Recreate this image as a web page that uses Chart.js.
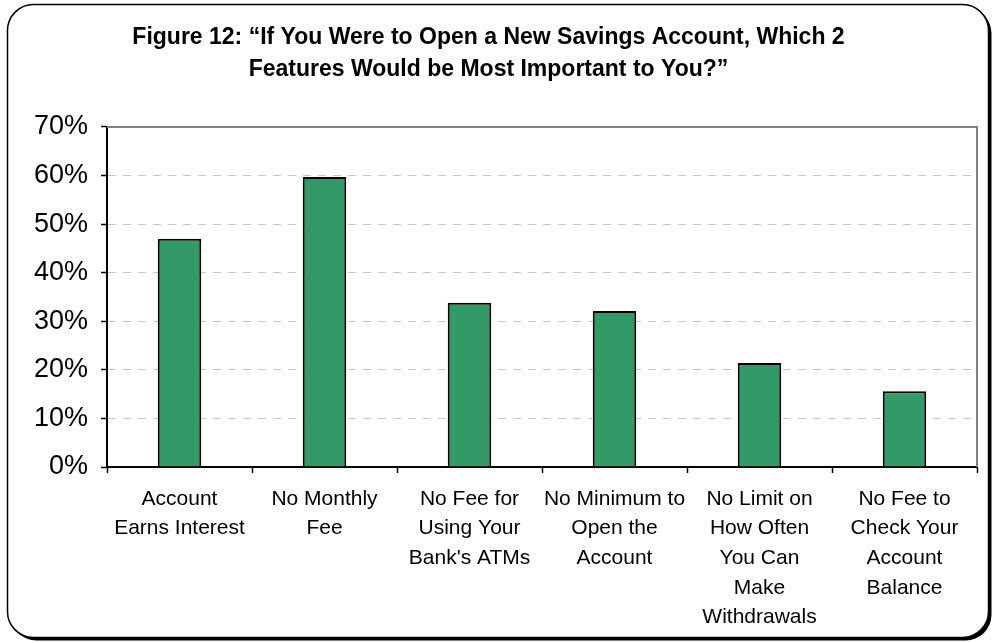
<!DOCTYPE html>
<html>
<head>
<meta charset="utf-8">
<title>Savings account features</title>
<script src="https://cdn.jsdelivr.net/npm/chart.js@4/dist/chart.umd.min.js"></script>
<style>
  html, body { margin: 0; padding: 0; background: #fff; }
  #wrap { width: 998px; height: 643px; position: relative; }
</style>
</head>
<body>
<div id="wrap"><canvas id="featuresChart" width="998" height="643"></canvas></div>
<script>
// survey answers: share of respondents choosing each feature (%)
const features = [
    ['Account', 'Earns Interest'],
    ['No Monthly', 'Fee'],
    ['No Fee for', 'Using Your', "Bank's ATMs"],
    ['No Minimum to', 'Open the', 'Account'],
    ['No Limit on', 'How Often', 'You Can', 'Make', 'Withdrawals'],
    ['No Fee to', 'Check Your', 'Account', 'Balance']
];
const shares = [47.0, 59.7, 33.8, 32.1, 21.4, 15.6];
const yTicks = [0, 10, 20, 30, 40, 50, 60, 70];

const titleLines = [
    'Figure 12: \u201CIf You Were to Open a New Savings Account, Which 2',
    'Features Would be Most Important to You?\u201D'
];

const FONT = '"Liberation Sans", Arial, sans-serif';

function roundRect(ctx, x, y, w, h, r) {
    ctx.beginPath();
    ctx.moveTo(x + r, y);
    ctx.lineTo(x + w - r, y);
    ctx.arcTo(x + w, y, x + w, y + r, r);
    ctx.lineTo(x + w, y + h - r);
    ctx.arcTo(x + w, y + h, x + w - r, y + h, r);
    ctx.lineTo(x + r, y + h);
    ctx.arcTo(x, y + h, x, y + h - r, r);
    ctx.lineTo(x, y + r);
    ctx.arcTo(x, y, x + r, y, r);
    ctx.closePath();
}

// rounded frame with a hard drop shadow behind the whole chart
const framePlugin = {
    id: 'frame',
    beforeDraw(chart) {
        const ctx = chart.ctx;
        ctx.save();
        ctx.fillStyle = '#fff';
        ctx.fillRect(0, 0, chart.width, chart.height);
        ctx.fillStyle = '#000';
        roundRect(ctx, 10.5, 7.5, 981, 633, 26);
        ctx.fill();
        ctx.fillStyle = '#fff';
        ctx.strokeStyle = '#000';
        ctx.lineWidth = 1.5;
        roundRect(ctx, 7.5, 4.5, 981, 633, 26);
        ctx.fill();
        ctx.stroke();
        ctx.restore();
    }
};

// gray top and right edges of the plot area
const plotEdgePlugin = {
    id: 'plotEdge',
    beforeDatasetsDraw(chart) {
        const { ctx, chartArea: a } = chart;
        ctx.save();
        ctx.strokeStyle = '#808080';
        ctx.lineWidth = 2;
        ctx.beginPath();
        ctx.moveTo(a.left, a.top);
        ctx.lineTo(a.right, a.top);
        ctx.lineTo(a.right, a.bottom);
        ctx.stroke();
        ctx.restore();
    }
};

new Chart(document.getElementById('featuresChart'), {
    type: 'bar',
    data: {
        labels: features,
        datasets: [{
            data: shares,
            backgroundColor: '#339966',
            borderColor: '#000',
            borderWidth: 2,
            barPercentage: 0.30,
            categoryPercentage: 1.0
        }]
    },
    options: {
        responsive: false,
        animation: false,
        layout: { padding: { left: 0, right: 21, top: 0, bottom: 0 } },
        plugins: {
            legend: { display: false },
            tooltip: { enabled: false },
            title: {
                display: true,
                text: titleLines,
                color: '#000',
                font: { family: FONT, size: 23, weight: 'bold', lineHeight: 1.39 },
                padding: { top: 22, bottom: 41 }
            }
        },
        scales: {
            x: {
                grid: {
                    drawOnChartArea: false,
                    tickLength: 6,
                    tickColor: '#000',
                    tickWidth: 1.5
                },
                border: { color: '#000', width: 2 },
                ticks: {
                    color: '#000',
                    font: { family: FONT, size: 21, lineHeight: 1.414 },
                    padding: 11,
                    maxRotation: 0,
                    autoSkip: false
                },
                afterFit(scale) { scale.height = 176; }
            },
            y: {
                min: 0,
                max: 70,
                afterBuildTicks(scale) {
                    scale.ticks = yTicks.map(v => ({ value: v }));
                },
                grid: {
                    color: ctx => (ctx.tick && ctx.tick.value > 0 && ctx.tick.value < 70) ? '#c8c8c8' : 'rgba(0,0,0,0)',
                    lineWidth: 1,
                    tickLength: 6,
                    tickColor: '#000',
                    tickWidth: 1.5,
                    tickBorderDash: []
                },
                border: { color: '#000', width: 2, dash: [8, 7] },
                ticks: {
                    color: '#000',
                    font: { family: FONT, size: 27 },
                    padding: 13,
                    callback: v => v + '%'
                },
                afterFit(scale) { scale.width = 107; }
            }
        }
    },
    plugins: [framePlugin, plotEdgePlugin]
});
</script>
</body>
</html>
